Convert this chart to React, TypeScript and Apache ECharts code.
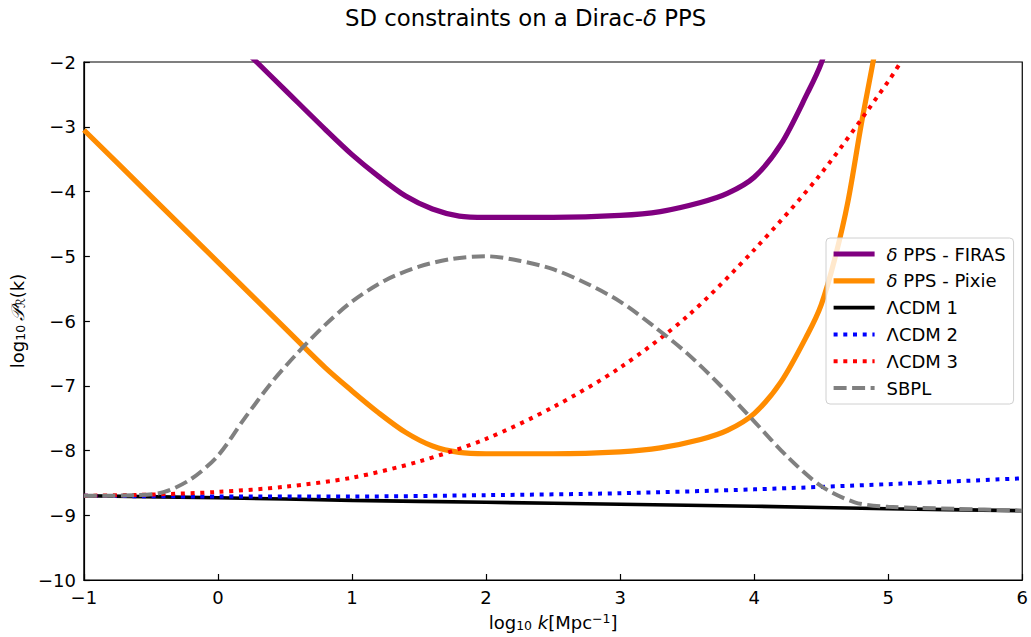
import React, { useEffect, useRef } from "react";
import * as echarts from "echarts";

// ---- data (log10 k, log10 P) ----
const firasK = [0.2, 0.5, 0.8, 1.0, 1.2, 1.4, 1.6, 1.8, 2.0, 2.5, 3.0, 3.3, 3.6, 3.8, 4.0, 4.2, 4.4, 4.5, 4.6];
const firasP = [-1.82, -2.43, -3.04, -3.43, -3.77, -4.07, -4.27, -4.38, -4.4, -4.4, -4.37, -4.31, -4.17, -4.03, -3.78, -3.27, -2.47, -2.02, -1.35];

const pixieK = [-1.0, -0.5, 0.0, 0.5, 0.8, 1.0, 1.2, 1.4, 1.6, 1.8, 2.0, 2.5, 3.0, 3.3, 3.6, 3.8, 4.0, 4.2, 4.4, 4.5, 4.6, 4.7, 4.8, 4.9, 4.95];
const pixieP = [-3.05, -4.07, -5.09, -6.11, -6.72, -7.08, -7.42, -7.72, -7.93, -8.03, -8.05, -8.05, -8.02, -7.96, -7.83, -7.69, -7.43, -6.94, -6.2, -5.75, -5.05, -4.15, -2.95, -1.85, -1.2];

const lcdm1K = [-1, 0, 1, 2, 3, 4, 5, 6];
const lcdm1P = [-8.7, -8.73, -8.77, -8.8, -8.83, -8.86, -8.9, -8.93];

const lcdm2K = [-1, 0, 1, 2, 3, 4, 5, 6];
const lcdm2P = [-8.7, -8.71, -8.71, -8.69, -8.66, -8.6, -8.52, -8.43];

const lcdm3K = [-1, -0.5, 0, 0.5, 1.0, 1.5, 2.0, 2.5, 3.0, 3.5, 4.0, 4.5, 5.0, 5.1];
const lcdm3P = [-8.7, -8.68, -8.64, -8.56, -8.42, -8.17, -7.82, -7.33, -6.72, -5.93, -4.9, -3.72, -2.3, -1.98];

const sbplK = [-1, -0.6, -0.4, -0.2, 0, 0.2, 0.4, 0.6, 0.8, 1.0, 1.25, 1.5, 1.75, 2.0, 2.25, 2.5, 2.75, 3.0, 3.25, 3.5, 3.75, 4.0, 4.25, 4.5, 4.75, 5.0, 5.5, 6.0];
const sbplP = [-8.7, -8.69, -8.64, -8.44, -8.08, -7.5, -6.95, -6.48, -6.06, -5.7, -5.37, -5.16, -5.04, -5.0, -5.07, -5.2, -5.42, -5.7, -6.08, -6.5, -7.0, -7.55, -8.1, -8.55, -8.8, -8.87, -8.9, -8.93];

const xTicks = { min: -1, max: 6, step: 1 };
const yTicks = { min: -10, max: -2, step: 1 };

const zip = (k: number[], p: number[]) => k.map((v, i) => [v, p[i]]);
const fmt = (v: number) => (v < 0 ? "\u2212" + Math.abs(v) : String(v));

const FONT = "DejaVu Sans";
const FS = 18;

const styles: Record<string, any> = {
  "δ PPS - FIRAS": { color: "#800080", width: 5.2, cap: "butt" },
  "δ PPS - Pixie": { color: "#ff8c00", width: 5.2, cap: "butt" },
  "ΛCDM 1": { color: "#000000", width: 3.6, cap: "butt" },
  "ΛCDM 2": { color: "#0000ff", width: 4, type: [4, 5.7], cap: "butt" },
  "ΛCDM 3": { color: "#ff0000", width: 4, type: [4, 5.7], cap: "butt" },
  SBPL: { color: "#808080", width: 4, type: [13, 5.5], cap: "butt" },
};

export default function App() {
  const ref = useRef<HTMLDivElement>(null);
  useEffect(() => {
    const chart = echarts.init(ref.current!, undefined, { renderer: "svg" });
    const base = { type: "line", showSymbol: false, symbol: "none", smooth: 0.3, clip: true };
    const subStyle = { fontFamily: FONT, fontSize: 12.5, color: "#000", padding: [7, 0, 0, 0] };
    const names = Object.keys(styles);
    const sData: [number[], number[]][] = [
      [firasK, firasP],
      [pixieK, pixieP],
      [lcdm1K, lcdm1P],
      [lcdm2K, lcdm2P],
      [lcdm3K, lcdm3P],
      [sbplK, sbplP],
    ];
    chart.setOption({
      animation: false,
      backgroundColor: "#fff",
      textStyle: { fontFamily: FONT },
      title: {
        text: "SD constraints on a Dirac-{it|δ} PPS",
        left: 340,
        top: 1,
        textStyle: {
          fontFamily: FONT,
          fontSize: 22.8,
          fontWeight: "normal",
          color: "#000",
          rich: { it: { fontFamily: FONT, fontSize: 22.8, fontStyle: "italic", color: "#000" } },
        },
      },
      grid: { left: 83, right: 8, top: 62, bottom: 55, show: true, borderColor: "#000", borderWidth: 1.2, backgroundColor: "transparent" },
      legend: {
        orient: "vertical",
        left: 826,
        top: 238,
        itemWidth: 41,
        itemHeight: 18,
        itemGap: 8.8,
        padding: [7, 8, 7, 5],
        borderColor: "#d0d0d0",
        borderWidth: 1,
        borderRadius: 4,
        backgroundColor: "rgba(255,255,255,0.8)",
        itemStyle: { opacity: 0, color: "transparent", borderColor: "transparent", borderWidth: 0 },
        textStyle: {
          fontFamily: FONT,
          fontSize: FS,
          color: "#000",
          padding: [0, 0, 0, 7],
          rich: { it: { fontFamily: FONT, fontSize: FS, fontStyle: "italic", color: "#000" } },
        },
        formatter: (name: string) => name.replace("δ", "{it|δ}"),
        data: names.map((n) => ({ name: n, lineStyle: { ...styles[n] } })),
      },
      xAxis: {
        type: "value",
        min: xTicks.min,
        max: xTicks.max,
        interval: xTicks.step,
        name: "log{s|10}{it| k}[Mpc{p|−1}]",
        nameLocation: "middle",
        nameGap: 32,
        nameTextStyle: {
          fontFamily: FONT,
          fontSize: FS,
          color: "#000",
          rich: {
            s: subStyle,
            it: { fontFamily: FONT, fontSize: FS, fontStyle: "italic", color: "#000" },
            p: { fontFamily: FONT, fontSize: 12.5, color: "#000", padding: [0, 0, 7, 0] },
          },
        },
        axisLine: { show: true, onZero: false, lineStyle: { color: "#000", width: 1.2 } },
        axisTick: { show: true, inside: true, length: 6, lineStyle: { color: "#000", width: 1.2 } },
        axisLabel: { formatter: fmt, fontFamily: FONT, fontSize: FS, color: "#000", margin: 8 },
        splitLine: { show: false },
      },
      yAxis: {
        type: "value",
        min: yTicks.min,
        max: yTicks.max,
        interval: yTicks.step,
        name: "log{s|10}{m|\u2009𝒫}{s|ℛ}(k)",
        nameLocation: "middle",
        nameRotate: 90,
        nameGap: 51,
        nameTextStyle: {
          fontFamily: FONT,
          fontSize: FS,
          color: "#000",
          rich: {
            s: subStyle,
            m: { fontSize: FS, fontStyle: "italic", color: "#000" },
          },
        },
        axisLine: { show: true, onZero: false, lineStyle: { color: "#000", width: 1.2 } },
        axisTick: { show: true, inside: true, length: 6, lineStyle: { color: "#000", width: 1.2 } },
        axisLabel: { formatter: fmt, fontFamily: FONT, fontSize: FS, color: "#000", margin: 8 },
        splitLine: { show: false },
      },
      series: names.map((n, i) => ({
        ...base,
        name: n,
        data: zip(sData[i][0], sData[i][1]),
        lineStyle: { ...styles[n] },
        itemStyle: { color: styles[n].color },
      })),
    });
    return () => chart.dispose();
  }, []);
  return <div ref={ref} style={{ position: "fixed", left: 0, top: 0, width: 1031, height: 637 }} />;
}
